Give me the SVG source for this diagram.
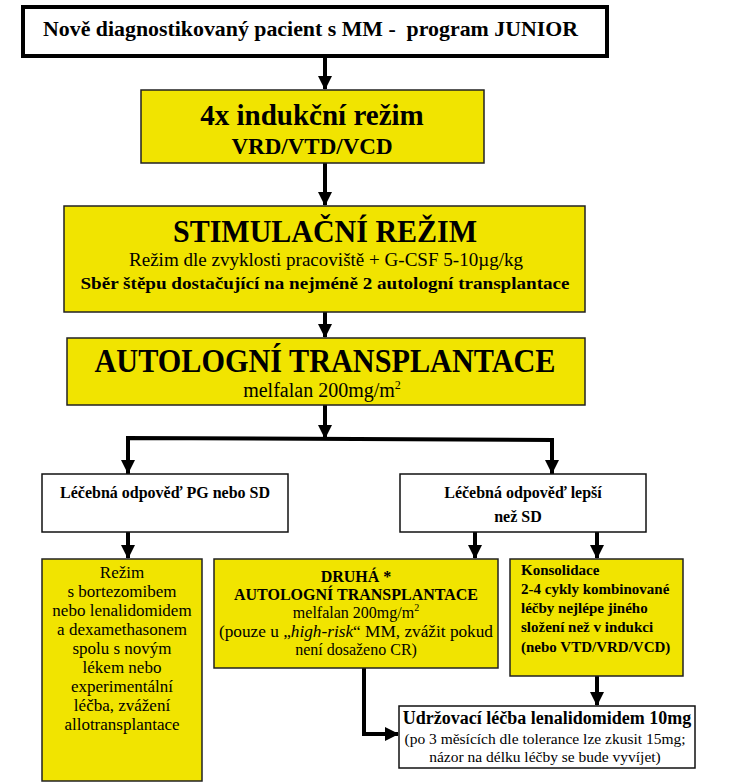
<svg xmlns="http://www.w3.org/2000/svg" width="735" height="784" viewBox="0 0 735 784" font-family="'Liberation Serif','Times New Roman',serif">
<defs>
<marker id="ah" markerUnits="userSpaceOnUse" markerWidth="14" markerHeight="14" refX="13" refY="7" orient="auto">
<path d="M0,0 L14,7 L0,14 Z" fill="#000"/>
</marker>
<style>
.y{fill:#F1E400;stroke:#222;stroke-width:1.5}
.w{fill:#fff;stroke:#111;stroke-width:1.5}
.c{stroke:#000;stroke-width:4;fill:none;marker-end:url(#ah)}
text{font-family:"Liberation Serif","Times New Roman",serif;fill:#000}
.b{font-weight:bold}
.m{text-anchor:middle}
</style>
</defs>
<rect width="735" height="784" fill="#fff"/>
<g id="connectors">
<path class="c" d="M325,58 V89"/>
<path class="c" d="M325,163 V205"/>
<path class="c" d="M325,312 V337"/>
<path class="c" d="M325,405 V438"/>
<path d="M128,476 V438 L552,440 V476" stroke="#000" stroke-width="4" fill="none"/>
<path class="c" d="M128,438 V473"/>
<path class="c" d="M552,440 V473"/>
<path class="c" d="M128,532 V558"/>
<path class="c" d="M475,532 V558"/>
<path class="c" d="M597,532 V558"/>
<path class="c" d="M597,676 V705"/>
<path class="c" d="M364,668 V734 H398"/>
</g>
<g id="n1">
<rect x="23" y="7" width="584" height="49" fill="#fff" stroke="#000" stroke-width="4"/>
<text x="43" y="36" class="b" font-size="22" textLength="535" lengthAdjust="spacingAndGlyphs" xml:space="preserve">Nově diagnostikovaný pacient s MM -  program JUNIOR</text>
</g>
<g id="n2">
<rect class="y" x="141" y="90" width="343" height="73"/>
<text x="312" y="125" class="b m" font-size="29">4x indukční režim</text>
<text x="312" y="154" class="b m" font-size="23">VRD/VTD/VCD</text>
</g>
<g id="n3">
<rect class="y" x="64" y="206" width="521" height="106"/>
<text x="325" y="242" class="b m" font-size="32" textLength="304" lengthAdjust="spacingAndGlyphs">STIMULAČNÍ REŽIM</text>
<text x="326" y="266" class="m" font-size="18" textLength="394" lengthAdjust="spacingAndGlyphs">Režim dle zvyklosti pracoviště + G-CSF 5-10µg/kg</text>
<text x="325" y="289" class="b m" font-size="17" textLength="489" lengthAdjust="spacingAndGlyphs">Sběr štěpu dostačující na nejméně 2 autologní transplantace</text>
</g>
<g id="n4">
<rect class="y" x="67" y="338" width="518" height="67"/>
<text x="325" y="372" class="b m" font-size="33" textLength="461" lengthAdjust="spacingAndGlyphs">AUTOLOGNÍ TRANSPLANTACE</text>
<text x="322" y="397" class="m" font-size="20">melfalan 200mg/m<tspan font-size="12" dy="-8">2</tspan></text>
</g>
<g id="n5">
<rect class="w" x="42" y="474" width="246" height="58"/>
<text x="165" y="498" class="b m" font-size="16">Léčebná odpověď PG nebo SD</text>
</g>
<g id="n6">
<rect class="w" x="400" y="474" width="246" height="58"/>
<text x="523" y="498" class="b m" font-size="16">Léčebná odpověď lepší</text>
<text x="518" y="522" class="b m" font-size="16">než SD</text>
</g>
<g id="n7">
<rect class="y" x="42" y="559" width="160" height="222"/>
<g font-size="17">
<text x="122" y="578" class="m">Režim</text>
<text x="122" y="597" class="m">s bortezomibem</text>
<text x="122" y="616" class="m">nebo lenalidomidem</text>
<text x="122" y="635" class="m">a dexamethasonem</text>
<text x="122" y="654" class="m">spolu s novým</text>
<text x="122" y="673" class="m">lékem nebo</text>
<text x="122" y="692" class="m">experimentální</text>
<text x="122" y="711" class="m">léčba, zvážení</text>
<text x="122" y="730" class="m">allotransplantace</text>
</g>
</g>
<g id="n8">
<rect class="y" x="214" y="559" width="284" height="109"/>
<text x="356" y="582" class="b m" font-size="16">DRUHÁ *</text>
<text x="356" y="600" class="b m" font-size="16">AUTOLOGNÍ TRANSPLANTACE</text>
<text x="356" y="618" class="m" font-size="16">melfalan 200mg/m<tspan font-size="10" dy="-7">2</tspan></text>
<text x="356" y="637" class="m" font-size="16" textLength="274" lengthAdjust="spacingAndGlyphs">(pouze u „<tspan font-style="italic">high-risk</tspan>“ MM, zvážit pokud</text>
<text x="356" y="655" class="m" font-size="16">není dosaženo CR)</text>
</g>
<g id="n9">
<rect class="y" x="510" y="559" width="173" height="117"/>
<g class="b" font-size="15">
<text x="521" y="575">Konsolidace</text>
<text x="521" y="594">2-4 cykly kombinované</text>
<text x="521" y="613">léčby nejlépe jiného</text>
<text x="521" y="632">složení než v indukci</text>
<text x="521" y="652">(nebo VTD/VRD/VCD)</text>
</g>
</g>
<g id="n10">
<rect class="w" x="399" y="706" width="296" height="62"/>
<text x="547" y="724" class="b m" font-size="18">Udržovací léčba lenalidomidem 10mg</text>
<text x="545" y="744" class="m" font-size="15.5">(po 3 měsících dle tolerance lze zkusit 15mg;</text>
<text x="545" y="762" class="m" font-size="15.5">názor na délku léčby se bude vyvíjet)</text>
</g>
</svg>
